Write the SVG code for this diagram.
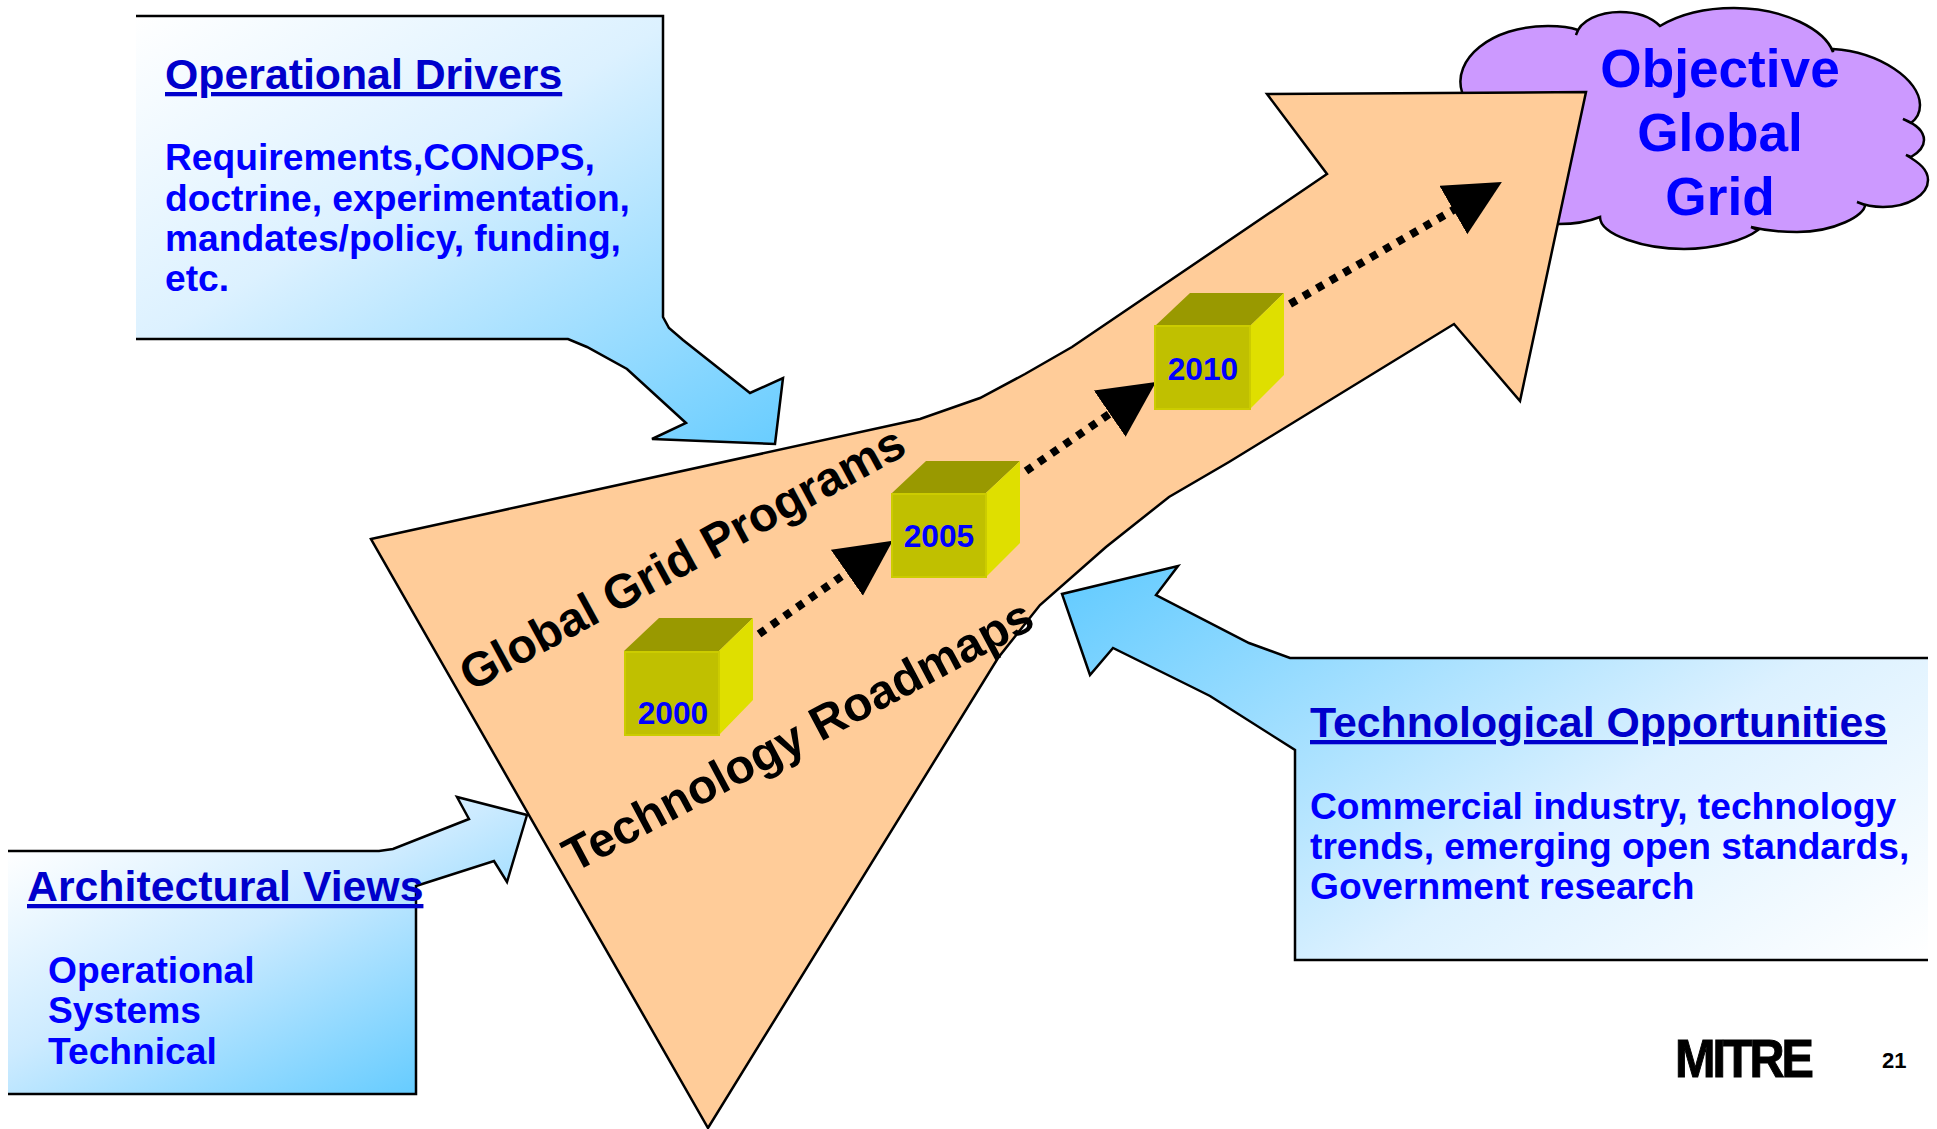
<svg xmlns="http://www.w3.org/2000/svg" width="1937" height="1129" viewBox="0 0 1937 1129">
<style>
text{font-family:"Liberation Sans",Arial,sans-serif;font-weight:700}
.out{stroke:#000;stroke-width:2.5;stroke-linejoin:miter}
.title{font-size:42.8px;fill:#0000CC;text-decoration:underline}
.body{font-size:37.2px;fill:#0000FF}
.cloudt{font-size:53.2px;fill:#0000FF;text-anchor:middle}
.year{font-size:31.7px;fill:#0000FF;text-anchor:middle}
.band{font-size:48px;fill:#000}
.front{fill:#C0C000;stroke:#CCCC00;stroke-width:2}
.top{fill:#999900}
.side{fill:#DFDF00}
.dots{fill:none;stroke:#000;stroke-width:8;stroke-dasharray:7.5 8;marker-end:url(#tri)}
</style>
<defs>
<marker id="tri" markerUnits="userSpaceOnUse" markerWidth="58" markerHeight="58" refX="10" refY="28" orient="auto"><path d="M0,0L56,28L0,56Z" fill="#000"/></marker>
<linearGradient id="g1" gradientUnits="userSpaceOnUse" x1="136" y1="16" x2="508" y2="622"><stop offset="0" stop-color="#fff"/><stop offset=".4" stop-color="#DCF1FF"/><stop offset="1" stop-color="#66CCFF"/></linearGradient>
<linearGradient id="g2" gradientUnits="userSpaceOnUse" x1="8" y1="850" x2="195" y2="1208"><stop offset="0" stop-color="#fff"/><stop offset=".45" stop-color="#CDEBFF"/><stop offset="1" stop-color="#66CCFF"/></linearGradient>
<linearGradient id="g3" gradientUnits="userSpaceOnUse" x1="1928" y1="960" x2="1493" y2="307"><stop offset="0" stop-color="#fff"/><stop offset=".4" stop-color="#DCF1FF"/><stop offset="1" stop-color="#66CCFF"/></linearGradient>
</defs>
<g id="cloud">
<path class="out" fill="#CC99FF" d="M1462,92C1452,60 1490,26 1548,26C1560,26 1570,27 1578,30L1576,35C1580,20 1600,12 1620,12C1638,12 1652,18 1660,26C1680,14 1705,8 1734,8C1785,8 1825,30 1833,52L1833,49C1880,52 1920,80 1920,105C1920,115 1915,120 1911,123L1903,119C1918,125 1924,133 1924,140C1924,147 1918,153 1911,157L1906,155C1920,163 1928,170 1928,180C1928,195 1908,207 1883,207C1872,207 1864,205 1857,202L1865,205C1865,215 1835,232 1797,232C1780,232 1763,230 1751,227L1758,230C1745,240 1715,249 1684,249C1645,249 1600,235 1600,217C1590,221 1575,224 1559,224L1500,224L1462,92Z"/>
<text class="cloudt" x="1720" y="87">Objective</text>
<text class="cloudt" x="1720" y="151">Global</text>
<text class="cloudt" x="1720" y="215">Grid</text>
</g>
<g id="roadmap-arrow">
<path class="out" fill="#FFCC99" d="M371,539L920,419L980,398L1025,374L1072,347L1327,174L1267,94L1586,92L1520,401L1454,324L1229,462L1169,497L1106,547L1040,605L998,658L708,1128Z"/>
</g>
<g id="operational-drivers">
<path class="out" fill="url(#g1)" d="M136,16H663V317L669,328L683,340L750,393L783,378L775,444L652,439L686,423L627,369L587,347L568,339H136"/>
<text class="title" x="165" y="89">Operational Drivers</text>
<text class="body" x="165" y="170">Requirements,CONOPS,</text>
<text class="body" x="165" y="211">doctrine, experimentation,</text>
<text class="body" x="165" y="251">mandates/policy, funding,</text>
<text class="body" x="165" y="291">etc.</text>
</g>
<g id="architectural-views">
<path class="out" fill="url(#g2)" d="M8,851H379L393,849L469,819L457,797L527,815L507,882L494,861L416,886V1094H8"/>
<text class="title" x="27" y="901">Architectural Views</text>
<text class="body" x="48" y="983">Operational</text>
<text class="body" x="48" y="1023">Systems</text>
<text class="body" x="48" y="1064">Technical</text>
</g>
<g id="technological-opportunities">
<path class="out" fill="url(#g3)" d="M1928,658H1290L1249,643L1156,595L1178,566L1062,594L1090,675L1113,648L1194,688L1210,696L1295,750V960H1928"/>
<text class="title" x="1310" y="737">Technological Opportunities</text>
<text class="body" x="1310" y="819">Commercial industry, technology</text>
<text class="body" x="1310" y="859">trends, emerging open standards,</text>
<text class="body" x="1310" y="899">Government research</text>
</g>
<g id="connectors">
<path class="dots" d="M759,634L855,567"/>
<path class="dots" d="M1026,471L1118,408"/>
<path class="dots" d="M1290,304L1462,205"/>
</g>
<g id="cube-2000">
<path class="top" d="M624,651L659,618H753L719,651Z"/><path class="side" d="M719,651L753,618V700L719,735Z"/><rect class="front" x="625" y="652" width="94" height="83"/>
<text class="year" x="673" y="724">2000</text>
</g>
<g id="cube-2005">
<path class="top" d="M892,493L926,461H1020L986,493Z"/><path class="side" d="M986,493L1020,461V543L986,577Z"/><rect class="front" x="892" y="494" width="94" height="83"/>
<text class="year" x="939" y="547">2005</text>
</g>
<g id="cube-2010">
<path class="top" d="M1155,326L1190,293H1284L1250,326Z"/><path class="side" d="M1250,326L1284,293V375L1250,409Z"/><rect class="front" x="1155" y="326" width="95" height="83"/>
<text class="year" x="1203" y="380">2010</text>
</g>
<g id="band-labels">
<text class="band" transform="translate(471,692) rotate(-28.6)">Global Grid Programs</text>
<text class="band" transform="translate(574,873) rotate(-28)">Technology Roadmaps</text>
</g>
<g id="footer">
<text transform="translate(1675,1077) scale(.9,1)" font-size="54" letter-spacing="-3.4" stroke="#000" stroke-width="1" fill="#000">MITRE</text>
<text x="1882" y="1068" font-size="22" fill="#000">21</text>
</g>
</svg>
